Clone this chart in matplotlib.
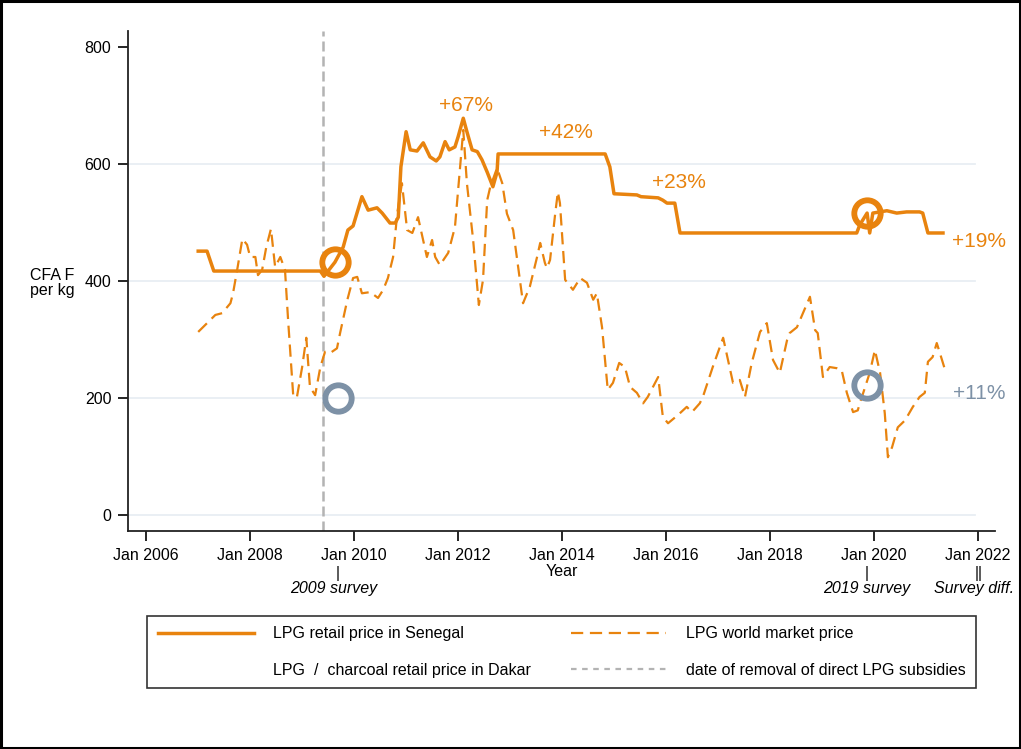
"""
LPG retail price in Senegal vs LPG world market price (CFA F per kg), 2007-2021.
"""

import matplotlib
matplotlib.use("Agg")
import matplotlib.pyplot as plt
from matplotlib.lines import Line2D
import matplotlib.transforms as mtransforms

matplotlib.rcParams['font.family'] = ['Liberation Sans', 'DejaVu Sans']

ORANGE = "#e8830e"
SLATE = "#7d91a6"
GRID = "#e8eef3"
VLINE = "#b3b3b3"

# LPG retail price in Senegal (decimal year, CFA F / kg)
retail_year = [2007.00, 2007.17, 2007.30, 2009.35, 2009.42, 2009.63, 2009.79, 2009.88,
               2009.98, 2010.15, 2010.27, 2010.44, 2010.54, 2010.69, 2010.79, 2010.85,
               2010.90, 2011.00, 2011.08, 2011.21, 2011.33, 2011.46, 2011.58, 2011.65,
               2011.75, 2011.83, 2011.94, 2012.00, 2012.10, 2012.17, 2012.27, 2012.37,
               2012.46, 2012.56, 2012.67, 2012.75, 2012.77, 2014.83, 2014.92, 2015.00,
               2015.44, 2015.52, 2015.85, 2015.94, 2016.02, 2016.17, 2016.27, 2019.67,
               2019.73, 2019.87, 2019.92, 2019.98, 2020.25, 2020.44, 2020.63, 2020.88,
               2020.94, 2021.04, 2021.33]
retail_price = [451, 451, 417, 417, 408, 432, 458, 487,
                494, 544, 521, 525, 516, 499, 499, 509,
                595, 655, 624, 622, 636, 612, 605, 612,
                638, 624, 629, 646, 678, 655, 624, 621,
                607, 586, 561, 586, 617, 617, 595, 549,
                547, 544, 542, 538, 533, 533, 482, 482,
                496, 516, 482, 516, 520, 516, 518, 518,
                516, 482, 482]

# LPG world market price (decimal year, CFA F / kg)
world_year = [2007.00, 2007.17, 2007.33, 2007.46, 2007.62, 2007.67, 2007.75, 2007.85,
              2007.94, 2008.00, 2008.10, 2008.15, 2008.23, 2008.31, 2008.40, 2008.48,
              2008.58, 2008.67, 2008.73, 2008.83, 2008.90, 2009.00, 2009.08, 2009.15,
              2009.25, 2009.35, 2009.44, 2009.54, 2009.67, 2009.73, 2009.87, 2009.98,
              2010.06, 2010.15, 2010.31, 2010.46, 2010.56, 2010.65, 2010.75, 2010.83,
              2010.92, 2011.02, 2011.12, 2011.23, 2011.40, 2011.50, 2011.56, 2011.65,
              2011.81, 2011.94, 2012.04, 2012.10, 2012.17, 2012.29, 2012.40, 2012.48,
              2012.56, 2012.62, 2012.75, 2012.85, 2012.94, 2013.06, 2013.25, 2013.38,
              2013.52, 2013.58, 2013.67, 2013.71, 2013.77, 2013.87, 2013.92, 2013.96,
              2014.06, 2014.21, 2014.35, 2014.48, 2014.60, 2014.67, 2014.77, 2014.88,
              2014.98, 2015.10, 2015.21, 2015.31, 2015.44, 2015.56, 2015.65, 2015.85,
              2015.94, 2016.04, 2016.23, 2016.40, 2016.50, 2016.65, 2016.71, 2016.90,
              2017.10, 2017.29, 2017.42, 2017.52, 2017.65, 2017.81, 2017.94, 2018.06,
              2018.19, 2018.33, 2018.38, 2018.52, 2018.77, 2018.87, 2018.92, 2019.02,
              2019.15, 2019.29, 2019.38, 2019.48, 2019.60, 2019.69, 2019.73, 2019.92,
              2020.02, 2020.12, 2020.21, 2020.27, 2020.35, 2020.46, 2020.60, 2020.75,
              2020.88, 2020.98, 2021.04, 2021.13, 2021.21, 2021.27, 2021.37]
world_price = [313, 328, 342, 345, 362, 379, 419, 472,
               462, 441, 441, 410, 419, 458, 489, 424,
               441, 419, 333, 202, 202, 253, 303, 219,
               205, 253, 279, 277, 285, 311, 368, 405,
               407, 379, 381, 371, 385, 405, 441, 516,
               567, 487, 482, 509, 441, 470, 441, 427,
               448, 492, 595, 658, 567, 470, 359, 402,
               538, 561, 593, 567, 515, 487, 362, 390,
               441, 465, 431, 422, 436, 516, 552, 533,
               402, 385, 405, 397, 368, 379, 321, 214,
               226, 260, 253, 219, 209, 191, 202, 236,
               168, 157, 171, 185, 176, 191, 202, 253,
               303, 226, 231, 202, 260, 313, 328, 265,
               243, 299, 311, 321, 373, 316, 311, 236,
               253, 251, 248, 209, 176, 179, 191, 243,
               282, 243, 174, 99, 116, 150, 162, 185,
               202, 209, 262, 270, 294, 277, 248]

subsidy_removal = 2009.40

# survey points: (year, value)
lpg_survey_year = [2009.63, 2019.87]
lpg_survey_value = [432, 516]
ratio_survey_year = [2009.69, 2019.87]
ratio_survey_value = [200, 222]

# change labels
change_text = ["+67%", "+42%", "+23%", "+19%"]
change_x = [2012.15, 2014.08, 2016.25, 2022.02]
change_y = [700, 653, 569, 468]

tick_years = list(range(2006, 2023, 2))
tick_labels = [f"Jan {y}" for y in tick_years]

WORLD_DASH = (0, (5.5, 3))
VLINE_DASH = (0, (4, 2))

fig = plt.figure(figsize=(10.21, 7.49), dpi=100)
ax = fig.add_axes([0.1254, 0.2911, 0.8491, 0.6675])

for v in [0, 200, 400, 600]:
    ax.plot([2005.65, 2021.95], [v, v], color=GRID, linewidth=1.3, zorder=0)

ax.axvline(subsidy_removal, color=VLINE, linestyle=VLINE_DASH, linewidth=1.8, zorder=1)

ax.plot(world_year, world_price, color=ORANGE, linewidth=1.6,
        linestyle=WORLD_DASH, zorder=2)
ax.plot(retail_year, retail_price, color=ORANGE, linewidth=2.5, zorder=3)

ax.plot(lpg_survey_year, lpg_survey_value, linestyle="none", marker="o",
        markersize=19, markerfacecolor="none", markeredgecolor=ORANGE,
        markeredgewidth=4.2, zorder=4)
ax.plot(ratio_survey_year, ratio_survey_value, linestyle="none", marker="o",
        markersize=19, markerfacecolor="none", markeredgecolor=SLATE,
        markeredgewidth=4.2, zorder=4)

for t, x, y in zip(change_text, change_x, change_y):
    ax.text(x, y, t, color=ORANGE, fontsize=15, ha="center", va="center")
ax.text(2022.02, 208, "+11%", color=SLATE, fontsize=15, ha="center", va="center")

ax.set_xlim(2005.65, 2022.33)
ax.set_ylim(-27, 827)
ax.set_xticks(tick_years)
ax.set_xticklabels(tick_labels, fontsize=11.5)
ax.set_yticks([0, 200, 400, 600, 800])
ax.set_yticklabels(["0", "200", "400", "600", "800"], fontsize=11.5)
ax.tick_params(axis="both", direction="out", length=7, width=1.2, color="black", pad=5)
for side in ["top", "right"]:
    ax.spines[side].set_visible(False)
for side in ["left", "bottom"]:
    ax.spines[side].set_linewidth(1.3)
    ax.spines[side].set_color("#222222")

ax.set_xlabel("Year", fontsize=11.5, labelpad=1)
fig.text(0.051, 0.622, "CFA F\nper kg", fontsize=11.5, ha="center", va="center",
         linespacing=0.95)

# survey markers below the axis
trans = mtransforms.blended_transform_factory(ax.transData, ax.transAxes)
ax.text(2009.69, -0.085, "|", transform=trans, ha="center", va="center", fontsize=11.5)
ax.text(2009.60, -0.115, "2009 survey", transform=trans, ha="center", va="center",
        fontsize=11.5, style="italic")
ax.text(2019.87, -0.085, "|", transform=trans, ha="center", va="center", fontsize=11.5)
ax.text(2019.87, -0.115, "2019 survey", transform=trans, ha="center", va="center",
        fontsize=11.5, style="italic")
ax.text(2022.02, -0.085, "||", transform=trans, ha="center", va="center", fontsize=11.5)
ax.text(2021.92, -0.115, "Survey diff.", transform=trans, ha="center", va="center",
        fontsize=11.5, style="italic")

handles = [
    Line2D([0], [0], color=ORANGE, linewidth=2.5),
    Line2D([0], [0], color="none"),
    Line2D([0], [0], color=ORANGE, linewidth=1.6, linestyle=WORLD_DASH),
    Line2D([0], [0], color=VLINE, linewidth=1.6, linestyle=(0, (2.5, 2.5))),
]
labels = [
    "LPG retail price in Senegal",
    "LPG  /  charcoal retail price in Dakar",
    "LPG world market price",
    "date of removal of direct LPG subsidies",
]
leg = fig.legend(handles, labels, loc="center", bbox_to_anchor=(0.5500, 0.1295),
                 ncol=2, fontsize=11.5, frameon=True, fancybox=False,
                 handlelength=6.0, handletextpad=1.2, columnspacing=2.5,
                 labelspacing=1.35, borderpad=0.65, edgecolor="black")
leg.get_frame().set_linewidth(1.2)

# outer frame of the figure
fig.patches.append(plt.Rectangle((0.001, 0.001), 0.998, 0.997, transform=fig.transFigure,
                                 fill=False, edgecolor="black", linewidth=2.2))

fig.savefig("out.png", dpi=100)
